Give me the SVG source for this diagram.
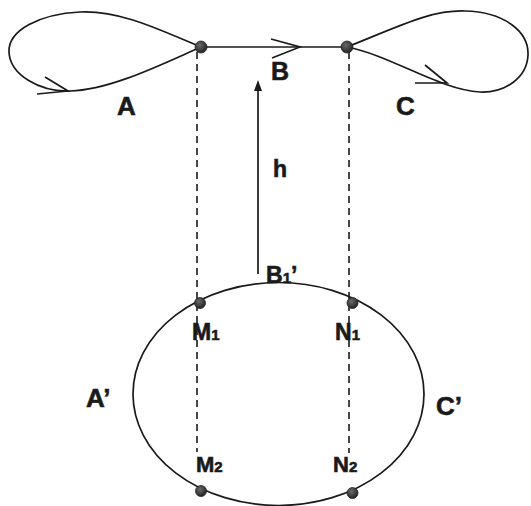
<svg xmlns="http://www.w3.org/2000/svg" width="531" height="506" viewBox="0 0 531 506">
<defs>
<radialGradient id="dotg" cx="0.4" cy="0.35" r="0.7">
<stop offset="0" stop-color="#6a6a6a"/>
<stop offset="1" stop-color="#1e1e1e"/>
</radialGradient>
<style>
.ln{fill:none;stroke:#1a1a1a;stroke-width:1.7}
.dash{fill:none;stroke:#1a1a1a;stroke-width:1.6;stroke-dasharray:7 5}
.dot{fill:url(#dotg);stroke:#222;stroke-width:0.8}
.lb{font-family:"Liberation Sans",Arial,sans-serif;font-weight:bold;fill:#1a1a1a;stroke:#1a1a1a;stroke-width:0.6}
</style>
</defs>
<rect width="531" height="506" fill="#fff"/>
<g id="connectors">
<path id="loopA" class="ln" d="M201,47 C160,30 120,10 80,12 C40,14 8,30 9,52 C10,75 40,92 70,91 C110,90 160,65 201,47"/>
<polyline class="ln" points="45,77 68,91 37,94"/>
<path id="edgeB" class="ln" d="M201,47 H347"/>
<polyline class="ln" points="271,39 300,47 272,58"/>
<path id="loopC" class="ln" d="M347,47 C400,26 430,10 465,11 C505,12 529,32 528,55 C527,78 505,93 480,92 C440,90 390,55 347,47"/>
<polyline class="ln" points="425,65 447,83 415,83"/>
<line class="dash" x1="197" y1="52" x2="197" y2="452"/>
<line class="dash" x1="349" y1="52" x2="349" y2="453"/>
<line class="ln" x1="258" y1="88" x2="258" y2="274"/>
<polygon points="258,80 254,91 262,91" fill="#1a1a1a"/>
<ellipse id="ring" class="ln" cx="278.5" cy="394" rx="145.5" ry="111.5"/>
</g>
<g id="nodeLeft"><circle class="dot" cx="201" cy="47" r="6"/></g>
<g id="nodeRight"><circle class="dot" cx="347" cy="47" r="6"/></g>
<g id="M1"><circle class="dot" cx="200" cy="303" r="5.5"/><text class="lb" x="192" y="340" font-size="23">M<tspan font-size="15">1</tspan></text></g>
<g id="N1"><circle class="dot" cx="352.5" cy="303" r="5.5"/><text class="lb" x="335" y="340" font-size="23">N<tspan font-size="15">1</tspan></text></g>
<g id="M2"><circle class="dot" cx="201" cy="491" r="5.5"/><text class="lb" x="196" y="472" font-size="22">M<tspan font-size="15">2</tspan></text></g>
<g id="N2"><circle class="dot" cx="352.5" cy="493" r="5.5"/><text class="lb" x="333" y="472" font-size="22">N<tspan font-size="15">2</tspan></text></g>
<g id="labels">
<text class="lb" x="117" y="115" font-size="26">A</text>
<text class="lb" x="271" y="80" font-size="25">B</text>
<text class="lb" x="396" y="115" font-size="26">C</text>
<text class="lb" x="273" y="177" font-size="23">h</text>
<text class="lb" x="266" y="283" font-size="23">B<tspan font-size="15">1</tspan>’</text>
<text class="lb" x="86" y="407" font-size="26">A’</text>
<text class="lb" x="436" y="415" font-size="26">C’</text>
</g>
</svg>
